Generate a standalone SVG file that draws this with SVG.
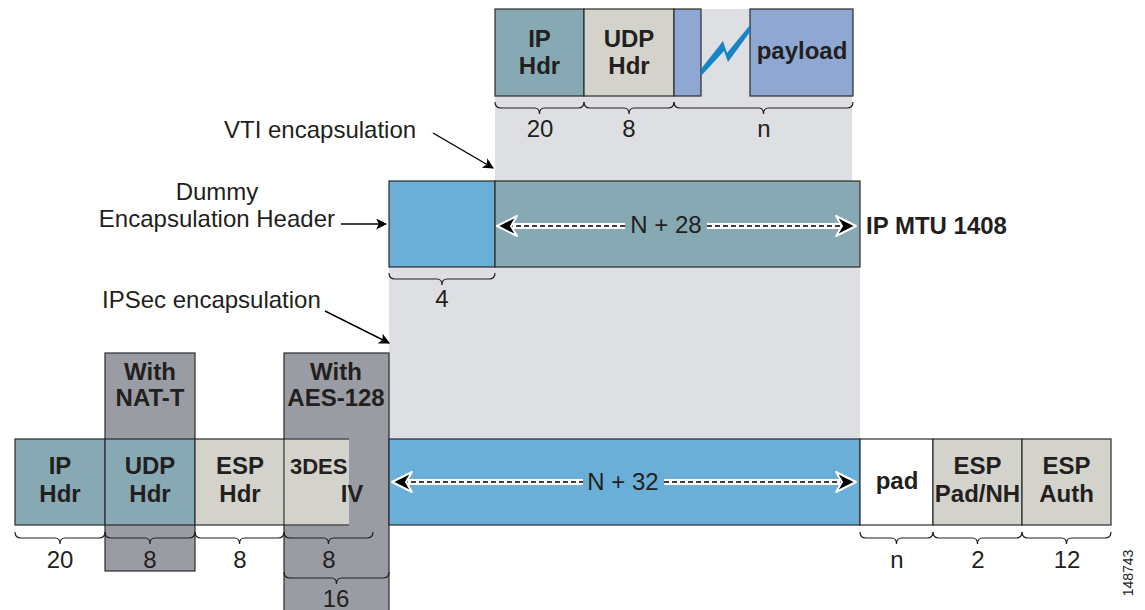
<svg xmlns="http://www.w3.org/2000/svg" width="1145" height="610" viewBox="0 0 1145 610">
  <style>
    .box { stroke: #2b2b2b; stroke-width: 1.2; }
    .teal { fill: #87a9b4; }
    .stone { fill: #d3d3cb; }
    .lav { fill: #8fa8d3; }
    .sky { fill: #6aafd7; }
    .col { fill: #9a9ca3; stroke: #2b2b2b; stroke-width: 1.2; }
    .bg { fill: #dedfe3; }
    .b { font-family: "Liberation Sans", Arial, sans-serif; font-weight: bold; font-size: 24px; fill: #231f20; text-anchor: middle; }
    .r { font-family: "Liberation Sans", Arial, sans-serif; font-size: 24px; fill: #231f20; text-anchor: middle; }
    .note { font-family: "Liberation Sans", Arial, sans-serif; font-size: 24px; fill: #231f20; }
    .brace { fill: none; stroke: #231f20; stroke-width: 1.2; }
    .lead { stroke: #000; stroke-width: 1.4; fill: none; }
    .dimw { stroke: #fff; stroke-width: 6; fill: none; }
    .dimk { stroke: #000; stroke-width: 1.6; stroke-dasharray: 5 3; fill: none; }
    .head { fill: #000; stroke: #fff; stroke-width: 2; stroke-linejoin: round; }
  </style>
  <defs>
    <marker id="ah" viewBox="0 0 10 10" refX="9" refY="5" markerWidth="11" markerHeight="11" markerUnits="userSpaceOnUse" orient="auto">
      <path d="M0,0 L10,5 L0,10 L2.5,5 Z" fill="#000"/>
    </marker>
  </defs>

  <!-- shaded backgrounds -->
  <rect class="bg" x="495" y="9" width="357" height="172"/>
  <rect class="bg" x="389" y="267" width="471" height="172"/>

  <!-- original packet -->
  <g id="orig-ip">
    <rect class="box teal" x="495" y="9" width="89" height="87"/>
    <text class="b" x="539.5" y="47">IP</text>
    <text class="b" x="539.5" y="74">Hdr</text>
  </g>
  <g id="orig-udp">
    <rect class="box stone" x="584" y="9" width="90" height="87"/>
    <text class="b" x="629" y="47">UDP</text>
    <text class="b" x="629" y="74">Hdr</text>
  </g>
  <g id="orig-payload">
    <rect class="box lav" x="674" y="9" width="27" height="87"/>
    <rect class="box lav" x="750" y="9" width="103" height="87"/>
    <polygon points="701,69 723,41 727,53 750,25 750,32 728,62 724,51 701,76" fill="#1685c6"/>
    <text class="b" x="802" y="59">payload</text>
  </g>

  <!-- VTI encapsulated packet -->
  <g id="dummy-hdr">
    <rect class="box sky" x="389" y="181" width="106" height="86"/>
  </g>
  <g id="vti-body">
    <rect class="box teal" x="495" y="181" width="365" height="86"/>
  </g>
  <text class="b" x="866" y="234" style="text-anchor:start">IP MTU 1408</text>

  <!-- IPSec packet -->
  <g id="col-natt">
    <rect class="col" x="105" y="353" width="90" height="218"/>
    <text class="b" x="150" y="380">With</text>
    <text class="b" x="150" y="406">NAT-T</text>
  </g>
  <g id="col-aes">
    <rect class="col" x="284" y="353" width="105" height="260"/>
    <text class="b" x="336" y="380">With</text>
    <text class="b" x="336" y="406">AES-128</text>
  </g>
  <g id="ipsec-ip">
    <rect class="box teal" x="15" y="439" width="90" height="86"/>
    <text class="b" x="60" y="474">IP</text>
    <text class="b" x="60" y="502">Hdr</text>
  </g>
  <g id="ipsec-udp">
    <rect class="box teal" x="105" y="439" width="90" height="86"/>
    <text class="b" x="150" y="474">UDP</text>
    <text class="b" x="150" y="502">Hdr</text>
  </g>
  <g id="ipsec-esp">
    <rect class="box stone" x="195" y="439" width="89" height="86"/>
    <text class="b" x="240" y="474">ESP</text>
    <text class="b" x="240" y="502">Hdr</text>
  </g>
  <g id="ipsec-iv">
    <rect class="stone" x="284.6" y="439.6" width="64.4" height="84.8"/>
    <line x1="284" y1="439" x2="349" y2="439" stroke="#2b2b2b" stroke-width="1.2"/>
    <line x1="284" y1="525" x2="349" y2="525" stroke="#2b2b2b" stroke-width="1.2"/>
    <text class="b" x="290" y="474" style="text-anchor:start;font-size:22px">3DES</text>
    <text class="b" x="352" y="502">IV</text>
  </g>
  <g id="ipsec-body">
    <rect class="box sky" x="389" y="439" width="471" height="86"/>
  </g>
  <g id="ipsec-pad">
    <rect class="box" fill="#fff" x="860" y="439" width="73" height="86"/>
    <text class="b" x="897" y="489">pad</text>
  </g>
  <g id="ipsec-padnh">
    <rect class="box stone" x="933" y="439" width="89" height="86"/>
    <text class="b" x="977.5" y="474">ESP</text>
    <text class="b" x="977.5" y="502">Pad/NH</text>
  </g>
  <g id="ipsec-auth">
    <rect class="box stone" x="1022" y="439" width="89" height="86"/>
    <text class="b" x="1066.5" y="474">ESP</text>
    <text class="b" x="1066.5" y="502">Auth</text>
  </g>

  <!-- length braces -->
  <g id="braces">
    <path class="brace" d="M495,102 q0,6 6,6 H534.5 q5,0 5,6 q0,-6 5,-6 H578 q6,0 6,-6"/>
    <path class="brace" d="M584,102 q0,6 6,6 H624 q5,0 5,6 q0,-6 5,-6 H668 q6,0 6,-6"/>
    <path class="brace" d="M674,102 q0,6 6,6 H758.5 q5,0 5,6 q0,-6 5,-6 H847 q6,0 6,-6"/>
    <path class="brace" d="M389,273 q0,6 6,6 H437 q5,0 5,6 q0,-6 5,-6 H489 q6,0 6,-6"/>
    <path class="brace" d="M15,532 q0,6 6,6 H55 q5,0 5,6 q0,-6 5,-6 H99 q6,0 6,-6"/>
    <path class="brace" d="M105,532 q0,6 6,6 H145 q5,0 5,6 q0,-6 5,-6 H189 q6,0 6,-6"/>
    <path class="brace" d="M195,532 q0,6 6,6 H234.5 q5,0 5,6 q0,-6 5,-6 H278 q6,0 6,-6"/>
    <path class="brace" d="M284,532 q0,6 6,6 H323.5 q5,0 5,6 q0,-6 5,-6 H367 q6,0 6,-6"/>
    <path class="brace" d="M284,572 q0,6 6,6 H331.5 q5,0 5,6 q0,-6 5,-6 H383 q6,0 6,-6"/>
    <path class="brace" d="M860,532 q0,6 6,6 H891.5 q5,0 5,6 q0,-6 5,-6 H927 q6,0 6,-6"/>
    <path class="brace" d="M933,532 q0,6 6,6 H972.5 q5,0 5,6 q0,-6 5,-6 H1016 q6,0 6,-6"/>
    <path class="brace" d="M1022,532 q0,6 6,6 H1061.5 q5,0 5,6 q0,-6 5,-6 H1105 q6,0 6,-6"/>
  </g>
  <g id="sizes">
    <text class="r" x="540" y="137">20</text>
    <text class="r" x="629" y="137">8</text>
    <text class="r" x="764" y="137">n</text>
    <text class="r" x="442" y="307">4</text>
    <text class="r" x="60" y="568">20</text>
    <text class="r" x="150" y="568">8</text>
    <text class="r" x="240" y="568">8</text>
    <text class="r" x="329" y="568">8</text>
    <text class="r" x="336" y="607">16</text>
    <text class="r" x="897" y="568">n</text>
    <text class="r" x="978" y="568">2</text>
    <text class="r" x="1067" y="568">12</text>
  </g>

  <!-- dimension arrows -->
  <g id="connectors">
    <line class="dimw" x1="508" y1="226" x2="625" y2="226"/>
    <line class="dimk" x1="508" y1="226" x2="625" y2="226"/>
    <line class="dimw" x1="707" y1="226" x2="843" y2="226"/>
    <line class="dimk" x1="707" y1="226" x2="843" y2="226"/>
    <path class="head" d="M497,226 L517,216 L511,226 L517,236 Z"/>
    <path class="head" d="M856,226 L836,216 L842,226 L836,236 Z"/>

    <line class="dimw" x1="403" y1="482" x2="583" y2="482"/>
    <line class="dimk" x1="403" y1="482" x2="583" y2="482"/>
    <line class="dimw" x1="664" y1="482" x2="843" y2="482"/>
    <line class="dimk" x1="664" y1="482" x2="843" y2="482"/>
    <path class="head" d="M392,482 L412,472 L406,482 L412,492 Z"/>
    <path class="head" d="M856,482 L836,472 L842,482 L836,492 Z"/>

    <!-- callout leaders -->
    <line class="lead" x1="433" y1="133" x2="493" y2="168" marker-end="url(#ah)"/>
    <line class="lead" x1="341" y1="224" x2="386" y2="224" marker-end="url(#ah)"/>
    <line class="lead" x1="325" y1="311" x2="389" y2="343" marker-end="url(#ah)"/>
  </g>
  <text class="r" x="666" y="233">N + 28</text>
  <text class="r" x="623" y="490">N + 32</text>

  <!-- callout texts -->
  <text class="note" x="224" y="138">VTI encapsulation</text>
  <text class="note" x="217" y="200" text-anchor="middle">Dummy</text>
  <text class="note" x="335" y="227" text-anchor="end">Encapsulation Header</text>
  <text class="note" x="102" y="308">IPSec encapsulation</text>

  <text font-family="Liberation Sans, Arial, sans-serif" font-size="14" fill="#231f20" text-anchor="middle" transform="translate(1133,573) rotate(-90)">148743</text>
</svg>
